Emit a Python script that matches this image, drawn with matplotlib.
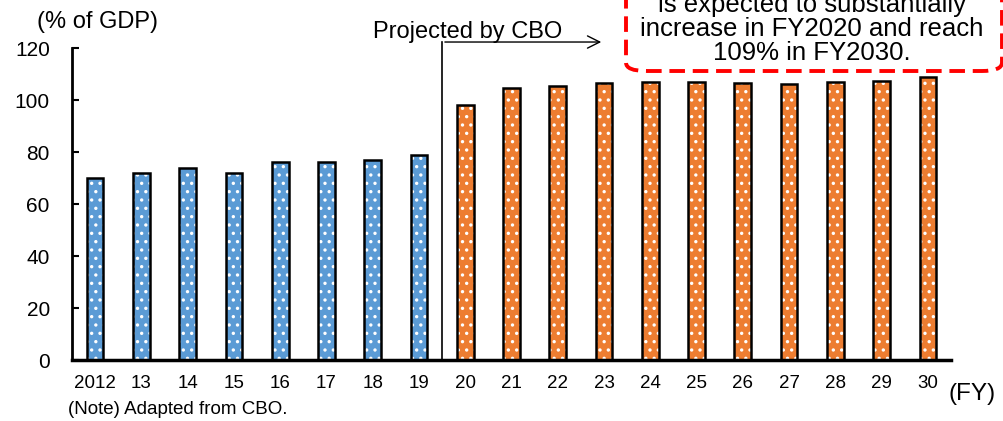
import matplotlib
matplotlib.use('Agg')
import matplotlib.pyplot as plt
from matplotlib.patches import FancyBboxPatch

plt.rcParams['font.family'] = ['Liberation Sans', 'DejaVu Sans']

years = ['2012', '13', '14', '15', '16', '17', '18', '19', '20', '21',
         '22', '23', '24', '25', '26', '27', '28', '29', '30']
debt = [70, 72, 74, 72, 76, 76, 77, 79, 98, 104.5, 105.5, 106.5,
        107, 107, 106.5, 106.3, 106.8, 107.3, 108.8]
n_actual = 8  # FY2012-19 actual, rest projected

fig = plt.figure(figsize=(10.04, 4.21), dpi=100)
ax = fig.add_axes([72/1004, 1 - 360/421, (951-72)/1004, (360-48)/421])

x = list(range(len(years)))
colors = ['#5B9BD5' if i < n_actual else '#ED7D31' for i in x]
# fill with white dotted hatch, then black outline on top
plt.rcParams['hatch.linewidth'] = 1.2
ax.bar(x, debt, width=0.36, color=colors, edgecolor='white', hatch='..', linewidth=0.01, zorder=2)
ax.bar(x, debt, width=0.36, facecolor='none', edgecolor='black', linewidth=1.8, zorder=3)

ax.set_xlim(-0.5, len(years) - 0.5)
ax.set_ylim(0, 120)
ax.set_yticks(range(0, 121, 20))
ax.set_xticks(x)
ax.set_xticklabels(years)
ax.tick_params(axis='y', labelsize=15, length=5, width=1.5, direction='in', pad=16)
ax.tick_params(axis='x', labelsize=13.5, length=0, pad=11)
for s in ['top', 'right']:
    ax.spines[s].set_visible(False)
ax.spines['left'].set_linewidth(2)
ax.spines['bottom'].set_linewidth(2.5)

# projection divider
ax.plot([n_actual - 0.5, n_actual - 0.5], [0, 122.3], color='black', lw=1.2, clip_on=False, zorder=4)
ax.annotate('', xy=(11.0, 122.3), xytext=(n_actual - 0.5, 122.3),
            arrowprops=dict(arrowstyle='->', color='black', lw=1, mutation_scale=22),
            annotation_clip=False)
fig.text(373/1004, 1 - 32/421, 'Projected by CBO', ha='left', va='center', fontsize=17)

fig.text(37/1004, 1 - 22/421, '(% of GDP)', ha='left', va='center', fontsize=17)
fig.text(972/1004, 1 - 394/421, '(FY)', ha='center', va='center', fontsize=17.5)
fig.text(68/1004, 1 - 410/421, '(Note) Adapted from CBO.', ha='left', va='center', fontsize=13.5)

# callout box
box = FancyBboxPatch((626/1004, 1 - 71/421), (1002-626)/1004, 100/421,
                     boxstyle='round,pad=0,rounding_size=0.02', transform=fig.transFigure,
                     facecolor='white', edgecolor='red', lw=2.8, linestyle=(0, (4, 2)),
                     clip_on=False)
fig.patches.append(box)
lines = ['is expected to substantially', 'increase in FY2020 and reach', '109% in FY2030.']
for i, t in enumerate(lines):
    fig.text(812/1004, 1 - (5 + 24 * i)/421, t, ha='center', va='center', fontsize=18.5)

fig.savefig('out.png', dpi=100, facecolor='white')
